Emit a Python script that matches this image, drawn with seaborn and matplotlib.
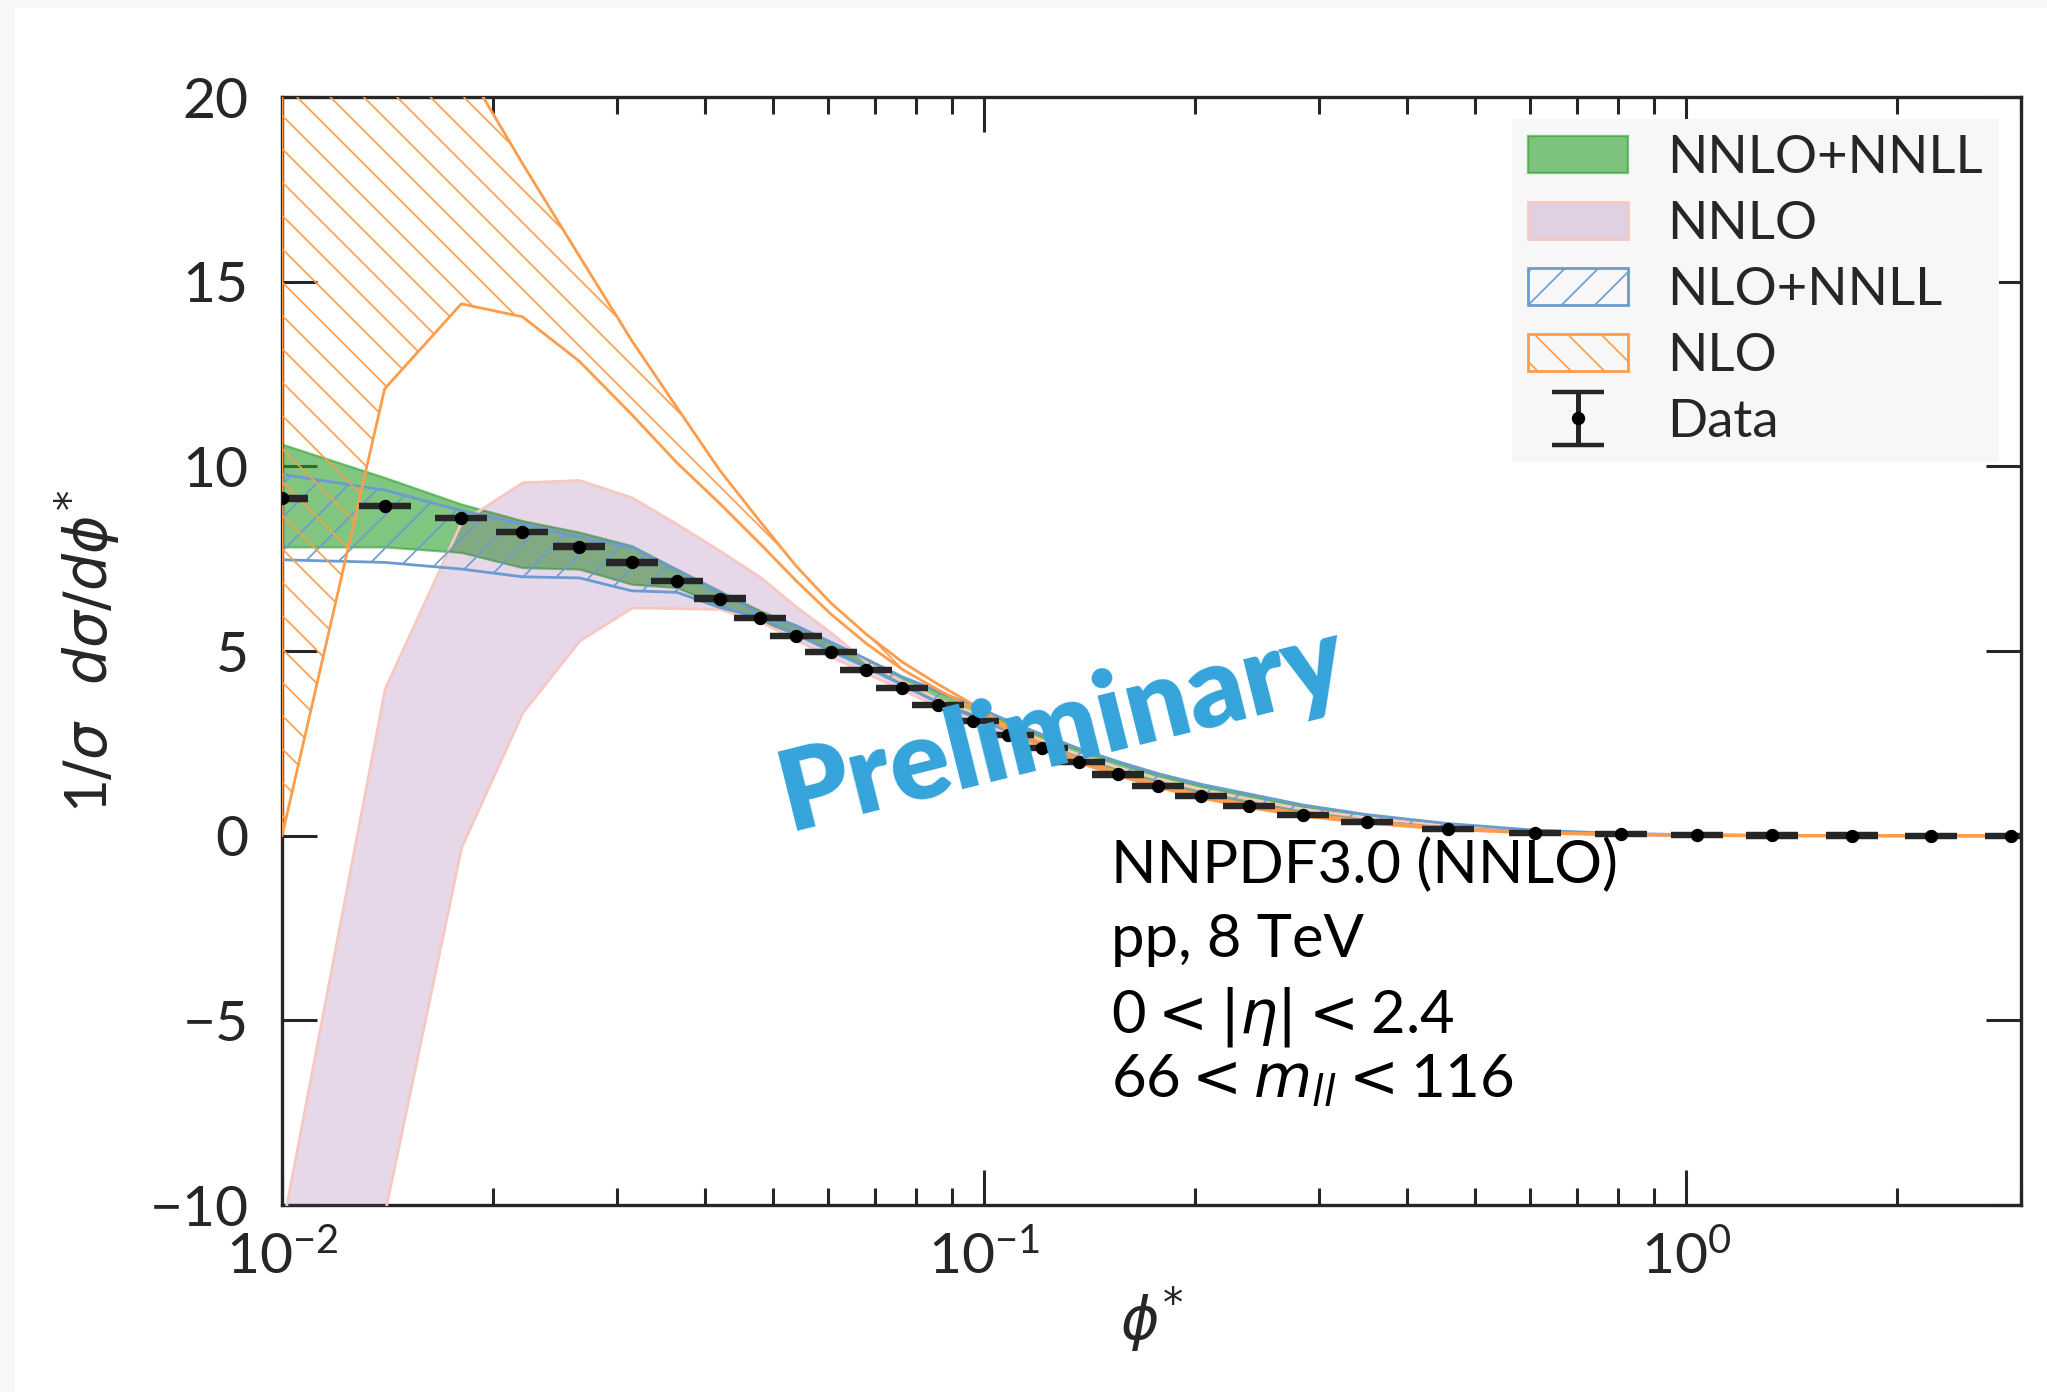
import matplotlib
matplotlib.use("Agg")
import matplotlib.pyplot as plt
from matplotlib.patches import Rectangle
from matplotlib.ticker import LogLocator, FixedLocator, NullFormatter
import seaborn as sns

# ---------------------------------------------------------------------------
# Data
# ---------------------------------------------------------------------------
phi_star = [0.010, 0.014, 0.018, 0.022, 0.0265, 0.0315, 0.0365, 0.042, 0.048,
            0.054, 0.0605, 0.068, 0.0765, 0.086, 0.0965, 0.108, 0.121, 0.1365,
            0.155, 0.177, 0.204, 0.2385, 0.285, 0.3515, 0.4575, 0.6095, 0.8065,
            1.0355, 1.3245, 1.7215, 2.2345, 2.8995]

data_val = [9.13, 8.93, 8.60, 8.22, 7.83, 7.40, 6.90, 6.42, 5.89, 5.40, 4.97,
            4.48, 4.00, 3.54, 3.10, 2.73, 2.37, 1.99, 1.66, 1.35, 1.08, 0.80,
            0.57, 0.37, 0.19, 0.08, 0.04, 0.015, 0.008, 0.004, 0.002, 0.001]
data_err = [0.03] * len(data_val)

nnlo_nnll_hi = [10.60, 9.70, 8.98, 8.53, 8.22, 7.85, 7.22, 6.63, 6.09, 5.70, 5.25,
                4.78, 4.30, 3.90, 3.50, 3.08, 2.70, 2.33, 1.98, 1.65, 1.36, 1.10,
                0.80, 0.55, 0.32, 0.14, 0.06, 0.025, 0.012, 0.006, 0.003, 0.001]
nnlo_nnll_lo = [7.82, 7.82, 7.67, 7.26, 7.22, 6.81, 6.72, 6.23, 5.82, 5.45, 5.02,
                4.58, 4.10, 3.62, 3.25, 2.85, 2.45, 2.07, 1.72, 1.42, 1.14, 0.88,
                0.62, 0.41, 0.22, 0.10, 0.04, 0.015, 0.007, 0.003, 0.001, 0.0]

nnlo_hi = [-10.6, 3.98, 8.50, 9.57, 9.63, 9.16, 8.44, 7.72, 7.00, 6.20, 5.50,
           4.70, 4.18, 3.70, 3.35, 2.95, 2.58, 2.20, 1.86, 1.55, 1.26, 1.00,
           0.73, 0.50, 0.28, 0.12, 0.05, 0.02, 0.01, 0.005, 0.002, 0.001]
nnlo_lo = [-25.0, -10.2, -0.30, 3.34, 5.28, 6.18, 6.16, 6.14, 5.80, 5.30, 4.85,
           4.40, 3.95, 3.50, 3.10, 2.72, 2.36, 1.98, 1.64, 1.34, 1.06, 0.79,
           0.55, 0.36, 0.19, 0.08, 0.03, 0.01, 0.005, 0.002, 0.001, 0.0]

nlo_nnll_hi = [9.78, 9.36, 8.80, 8.44, 8.08, 7.81, 7.18, 6.59, 6.00, 5.68, 5.24,
               4.78, 4.30, 3.92, 3.52, 3.12, 2.74, 2.36, 2.01, 1.68, 1.39, 1.13,
               0.83, 0.57, 0.33, 0.15, 0.06, 0.025, 0.012, 0.006, 0.003, 0.001]
nlo_nnll_lo = [7.47, 7.40, 7.22, 7.01, 6.98, 6.63, 6.59, 6.18, 5.91, 5.45, 5.00,
               4.56, 4.08, 3.60, 3.22, 2.83, 2.43, 2.05, 1.70, 1.40, 1.12, 0.86,
               0.60, 0.40, 0.21, 0.09, 0.035, 0.012, 0.006, 0.003, 0.001, 0.0]

nlo_hi = [45.0, 30.0, 21.0, 18.2, 15.7, 13.4, 11.6, 9.9, 8.5, 7.3, 6.3, 5.45,
          4.7, 4.1, 3.55, 2.95, 2.50, 2.07, 1.72, 1.40, 1.10, 0.84, 0.60, 0.39,
          0.21, 0.09, 0.04, 0.015, 0.008, 0.004, 0.002, 0.001]
nlo_lo = [0.0, 12.1, 14.4, 14.05, 12.85, 11.4, 10.1, 9.0, 7.9, 6.9, 6.0, 5.2,
          4.5, 3.95, 3.45, 2.85, 2.40, 1.98, 1.63, 1.31, 1.02, 0.76, 0.53, 0.34,
          0.17, 0.07, 0.03, 0.01, 0.005, 0.002, 0.001, 0.0]

info_lines = ["NNPDF3.0 (NNLO)", "pp, 8 TeV",
              r"$\mathdefault{0} < |\eta| < \mathdefault{2.4}$",
              r"$\mathdefault{66} < m_{ll} < \mathdefault{116}$"]
yticks = [-10, -5, 0, 5, 10, 15, 20]

# ---------------------------------------------------------------------------
# Style
# ---------------------------------------------------------------------------
DARK = "#262626"
GREEN = "#2ca02c"
BLUE = "#6a9bd1"
ORANGE = "#fd9c4b"
PRELIM = "#35a4da"

sns.set_theme(style="ticks", rc={
    "axes.edgecolor": DARK,
    "axes.linewidth": 1.2,
    "xtick.color": DARK,
    "ytick.color": DARK,
    "text.color": DARK,
    "axes.labelcolor": DARK,
    "hatch.linewidth": 0.6,
})
plt.rcParams["font.family"] = ["Lato", "DejaVu Sans"]
plt.rcParams["mathtext.fontset"] = "dejavusans"

fig = plt.figure(figsize=(2047 / 200, 1392 / 200), dpi=200)
fig.patch.set_facecolor("#f7f7f7")
fig.add_artist(Rectangle((15 / 2047, 0), 1, 1 - 8 / 1392, transform=fig.transFigure,
                         facecolor="white", edgecolor="none", zorder=-5))
ax = fig.add_axes([0.1378, 0.1343, 0.8495, 0.7960])

# ---------------------------------------------------------------------------
# Bands
# ---------------------------------------------------------------------------
g_band = ax.fill_between(phi_star, nnlo_nnll_lo, nnlo_nnll_hi, facecolor=GREEN,
                         edgecolor=GREEN, alpha=0.6, linewidth=0.8, zorder=2,
                         label="NNLO+NNLL")
p_band = ax.fill_between(phi_star, nnlo_lo, nnlo_hi, facecolor=(0.53, 0.24, 0.57, 0.2),
                         edgecolor="#f6c8c2", linewidth=1.0, zorder=3, label="NNLO")
b_band = ax.fill_between(phi_star, nlo_nnll_lo, nlo_nnll_hi, facecolor="none",
                         edgecolor=BLUE, hatch="//", linewidth=1.0, zorder=4,
                         label="NLO+NNLL")
o_band = ax.fill_between(phi_star, nlo_lo, nlo_hi, facecolor="none",
                         edgecolor=ORANGE, hatch="\\\\", linewidth=1.0, zorder=5,
                         label="NLO")

# ---------------------------------------------------------------------------
# Data
# ---------------------------------------------------------------------------
d_err = ax.errorbar(phi_star, data_val, yerr=data_err, fmt="o", color="black",
                    ecolor=DARK, elinewidth=1.8, capsize=9.4, capthick=1.6,
                    markersize=3.8, zorder=10, label="Data")

# ---------------------------------------------------------------------------
# Axes
# ---------------------------------------------------------------------------
ax.set_xscale("log")
ax.set_xlim(0.01, 3.0)
ax.set_ylim(-10, 20)
ax.yaxis.set_major_locator(FixedLocator(yticks))
ax.xaxis.set_major_locator(LogLocator(base=10, numticks=10))
ax.xaxis.set_minor_locator(LogLocator(base=10, subs=range(2, 10), numticks=20))
ax.xaxis.set_minor_formatter(NullFormatter())
ax.tick_params(which="both", direction="in", top=True, right=True, colors=DARK)
ax.tick_params(which="major", length=12.5, width=1.1, labelsize=20.5)
ax.tick_params(which="minor", length=6, width=1.1)
ax.tick_params(axis="x", which="major", pad=9)
ax.tick_params(axis="y", which="major", pad=12)
for sp in ax.spines.values():
    sp.set_linewidth(1.2)
    sp.set_color(DARK)

ax.set_xlabel(r"$\phi^{*}$", fontsize=21)
ax.set_ylabel(r"$\mathdefault{1}/\sigma\ \ d\sigma/d\phi^{*}$", fontsize=21)
ax.xaxis.set_label_coords(0.5, -0.072)
ax.yaxis.set_label_coords(-0.092, 0.5)

# ---------------------------------------------------------------------------
# Annotations
# ---------------------------------------------------------------------------
for txt, yy in zip(info_lines, [0.2906, 0.2238, 0.1561, 0.0975]):
    ax.text(0.4767, yy, txt, transform=ax.transAxes, fontsize=21.5, color="black",
            ha="left", va="baseline", zorder=12)

ax.text(0.4485, 0.4305, "Preliminary", transform=ax.transAxes, rotation=14,
        ha="center", va="center", fontsize=40, fontweight="heavy", color=PRELIM,
        family=["Lato", "Open Sans"], zorder=20)

leg = ax.legend([g_band, p_band, b_band, o_band, d_err],
                ["NNLO+NNLL", "NNLO", "NLO+NNLL", "NLO", "Data"],
                loc="upper right", fontsize=19, frameon=True, fancybox=False,
                facecolor="#f7f7f7", edgecolor="none", framealpha=1,
                borderpad=0.3, labelspacing=0.36, handlelength=1.9,
                handleheight=0.72, handletextpad=0.75, borderaxespad=0.42)
leg.set_zorder(30)

fig.savefig("out.png", dpi=200, facecolor=fig.get_facecolor())
